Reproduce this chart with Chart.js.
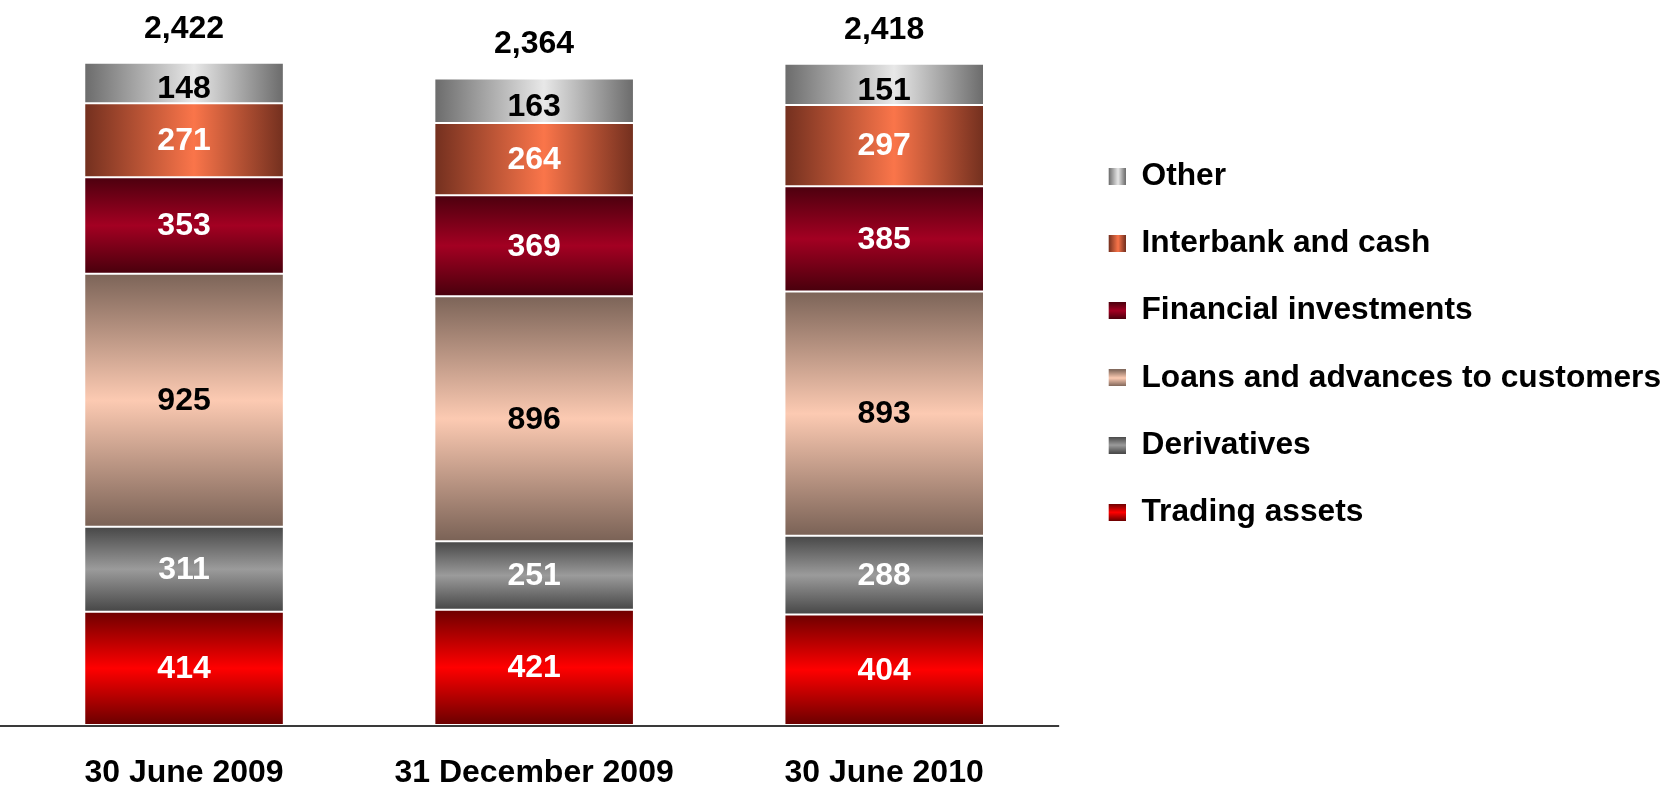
<!DOCTYPE html>
<html>
<head>
<meta charset="utf-8">
<script src="https://cdn.jsdelivr.net/npm/chart.js@4/dist/chart.umd.min.js"></script>
<style>
  html, body { margin: 0; padding: 0; background: #fff; }
  #wrap { width: 1671px; height: 788px; position: relative; }
</style>
</head>
<body>
<div id="wrap"><canvas id="assetsChart"></canvas></div>
<script>
// Data (bottom of stack first)
const periods = ['30 June 2009', '31 December 2009', '30 June 2010'];
const tradingAssets = [414, 421, 404];
const derivatives = [311, 251, 288];
const loansAdvances = [925, 896, 893];
const financialInvestments = [353, 369, 385];
const interbankCash = [271, 264, 297];
const other = [148, 163, 151];
const totals = [2422, 2364, 2418];

const FONT = '"Liberation Sans", Arial, Helvetica, sans-serif';
const BAR_PCT = 0.565;

// gradient stops: [edge, centre, edge]; horizontal ones run left->right
const styles = [
  { label: 'Trading assets', stops: ['#6e0000', '#ff0000', '#6a0000'], horizontal: false, text: '#fff', dy: 1 },
  { label: 'Derivatives', stops: ['#474747', '#9b9b9b', '#464646'], horizontal: false, text: '#fff', dy: 1 },
  { label: 'Loans and advances to customers', stops: ['#7c6458', '#fccab2', '#7a6256'], horizontal: false, text: '#000', dy: 1 },
  { label: 'Financial investments', stops: ['#4c000e', '#a30022', '#48000c'], horizontal: false, text: '#fff', dy: 1 },
  { label: 'Interbank and cash', stops: ['#74301f', '#fa754a', '#74301f'], horizontal: true, text: '#fff', dy: 1 },
  { label: 'Other', stops: ['#6c6c6c', '#e8e8e8', '#6c6c6c'], horizontal: true, text: '#000', dy: 6.5 }
];
const seriesData = [tradingAssets, derivatives, loansAdvances, financialInvestments, interbankCash, other];

function addStops(g, st) {
  g.addColorStop(0, st.stops[0]);
  g.addColorStop(st.horizontal ? 0.55 : 0.5, st.stops[1]);
  g.addColorStop(1, st.stops[2]);
  return g;
}

function segmentFill(context) {
  const chart = context.chart;
  const st = styles[context.datasetIndex];
  const xs = chart.scales.x, ys = chart.scales.y;
  if (context.type !== 'data' || !xs || !ys || !chart.chartArea) return st.stops[1];
  const i = context.dataIndex, d = context.datasetIndex;
  let start = 0;
  for (let k = 0; k < d; k++) start += seriesData[k][i];
  const end = start + seriesData[d][i];
  if (st.horizontal) {
    const cx = xs.getPixelForValue(i);
    const half = (xs.width / periods.length) * BAR_PCT / 2;
    return addStops(chart.ctx.createLinearGradient(cx - half, 0, cx + half, 0), st);
  }
  return addStops(chart.ctx.createLinearGradient(0, ys.getPixelForValue(end), 0, ys.getPixelForValue(start)), st);
}

// small gradient swatches for the legend, the square sits at the right of the image
const SWATCH_W = 31, SWATCH = 17;
function legendSwatch(st) {
  const c = document.createElement('canvas');
  c.width = SWATCH_W;
  c.height = SWATCH;
  const g = c.getContext('2d');
  const x0 = SWATCH_W - SWATCH;
  g.fillStyle = st.horizontal
    ? addStops(g.createLinearGradient(x0, 0, SWATCH_W, 0), st)
    : addStops(g.createLinearGradient(0, 0, 0, SWATCH), st);
  g.fillRect(x0, 0, SWATCH, SWATCH);
  return c;
}
const swatches = styles.map(legendSwatch);

// segment values, stack totals and the base line
const valueLabels = {
  id: 'valueLabels',
  afterDatasetsDraw(chart) {
    const ctx = chart.ctx;
    ctx.save();
    ctx.font = 'bold 32px ' + FONT;
    ctx.textAlign = 'center';
    ctx.textBaseline = 'middle';
    chart.data.datasets.forEach((ds, d) => {
      chart.getDatasetMeta(d).data.forEach((bar, i) => {
        ctx.fillStyle = styles[d].text;
        ctx.fillText(String(ds.data[i]), bar.x, (bar.y + bar.base) / 2 + styles[d].dy);
      });
    });
    const topBars = chart.getDatasetMeta(chart.data.datasets.length - 1).data;
    topBars.forEach((bar, i) => {
      ctx.fillStyle = '#000';
      ctx.fillText(totals[i].toLocaleString('en-US'), bar.x, bar.y - 34);
    });
    const y0 = chart.scales.y.getPixelForValue(0);
    ctx.strokeStyle = '#3a3a3a';
    ctx.lineWidth = 2;
    ctx.beginPath();
    ctx.moveTo(0, y0 + 1);
    ctx.lineTo(chart.chartArea.right, y0 + 1);
    ctx.stroke();
    ctx.restore();
  }
};

const datasets = seriesData.map((values, d) => ({
  label: styles[d].label,
  data: values,
  backgroundColor: segmentFill,
  borderColor: '#ffffff',
  borderWidth: { top: 1, bottom: 1, left: 0, right: 0 },
  borderSkipped: false,
  barPercentage: BAR_PCT,
  categoryPercentage: 1
}));

new Chart(document.getElementById('assetsChart'), {
  type: 'bar',
  data: { labels: periods, datasets: datasets },
  options: {
    responsive: true,
    maintainAspectRatio: false,
    animation: false,
    layout: { padding: { left: 9, top: 14, right: 0, bottom: 0 } },
    scales: {
      x: {
        stacked: true,
        grid: { display: false, drawTicks: false },
        border: { display: false },
        ticks: { color: '#000', padding: 29, font: { family: FONT, size: 32, weight: 'bold' } },
        afterFit: (scale) => { scale.height = 63; }
      },
      y: {
        stacked: true,
        display: false,
        min: 0,
        max: 2600
      }
    },
    plugins: {
      tooltip: { enabled: false },
      legend: {
        position: 'right',
        align: 'start',
        reverse: true,
        title: { display: true, text: '', font: { size: 10, lineHeight: 1 }, padding: { top: 101, bottom: 0 } },
        labels: {
          color: '#000',
          font: { family: FONT, size: 31.7, weight: 'bold' },
          usePointStyle: true,
          pointStyleWidth: SWATCH_W,
          boxHeight: SWATCH,
          padding: 35.5,
          generateLabels: (chart) => chart.data.datasets.map((ds, i) => ({
            text: ds.label,
            fillStyle: styles[i].stops[1],
            strokeStyle: styles[i].stops[1],
            fontColor: '#000',
            lineWidth: 0,
            pointStyle: swatches[i],
            hidden: false,
            datasetIndex: i
          }))
        }
      }
    }
  },
  plugins: [valueLabels]
});
</script>
</body>
</html>
